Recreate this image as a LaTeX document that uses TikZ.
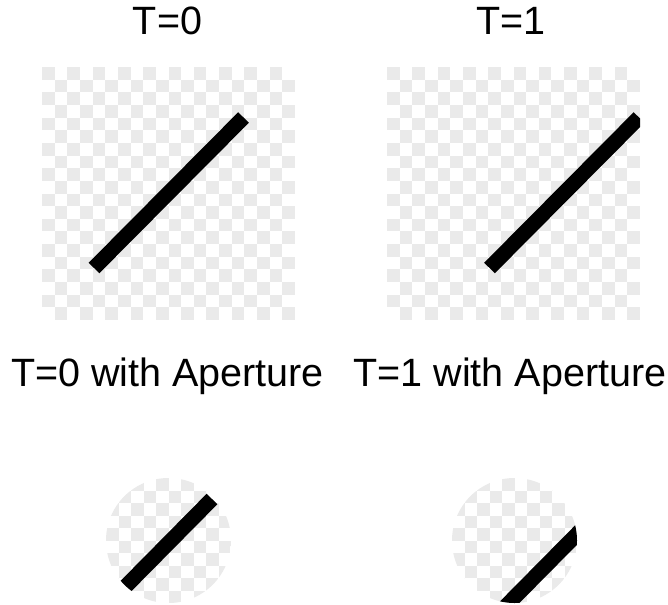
\documentclass[tikz,border=0pt]{standalone}
\usepackage{fontspec}
\setmainfont{Liberation Sans}
\definecolor{chk}{RGB}{234,234,234}
\newcommand\mychecker[4]{% x0, y0, n-1, size
  \foreach \i in {0,...,#3}{%
    \foreach \j in {0,...,#3}{%
      \pgfmathtruncatemacro\pp{mod(\i+\j,2)}%
      \ifnum\pp=0
        \fill[chk] ({#1+\i*#4},{#2+\j*#4}) rectangle ++(#4,#4);
      \fi
    }%
  }%
}
\begin{document}
\begin{tikzpicture}[x=1pt,y=-1pt,
  lbl/.style={font=\fontsize{39.5}{44}\selectfont, anchor=base, inner sep=0pt},
  bar/.style={line width=15pt, draw=black, line cap=butt}]
\useasboundingbox (0,0) rectangle (668,604);
\fill[white] (0,0) rectangle (668,604);
% labels
\node[lbl] (t0) at (167.5,35) {T=0};
\node[lbl] (t1) at (511,35) {T=1};
\node[lbl] (t0a) at (167.5,386.7) {T=0 with Aperture};
\node[lbl] (t1a) at (510,386.7) {T=1 with Aperture};
% top left panel
\begin{scope}
  \clip (42,67) rectangle (295,320);
  \mychecker{42}{67}{19}{12.65}
  \draw[bar] (94,268) -- (243.5,117.5);
\end{scope}
% top right panel
\begin{scope}
  \clip (387,67) rectangle (640,320);
  \mychecker{387}{67}{19}{12.65}
  \draw[bar] (489.5,268) -- (639,117.5);
\end{scope}
% bottom left aperture
\begin{scope}
  \clip (168.5,540.5) circle (62.5pt);
  \mychecker{106}{478}{9}{12.5}
  \draw[bar] (125,587) -- (212,499);
\end{scope}
% bottom right aperture
\begin{scope}
  \clip (514.5,540.5) circle (62.5pt);
  \mychecker{452}{478}{9}{12.5}
  \draw[bar] (498,614) -- (585,526);
\end{scope}
\end{tikzpicture}
\end{document}
